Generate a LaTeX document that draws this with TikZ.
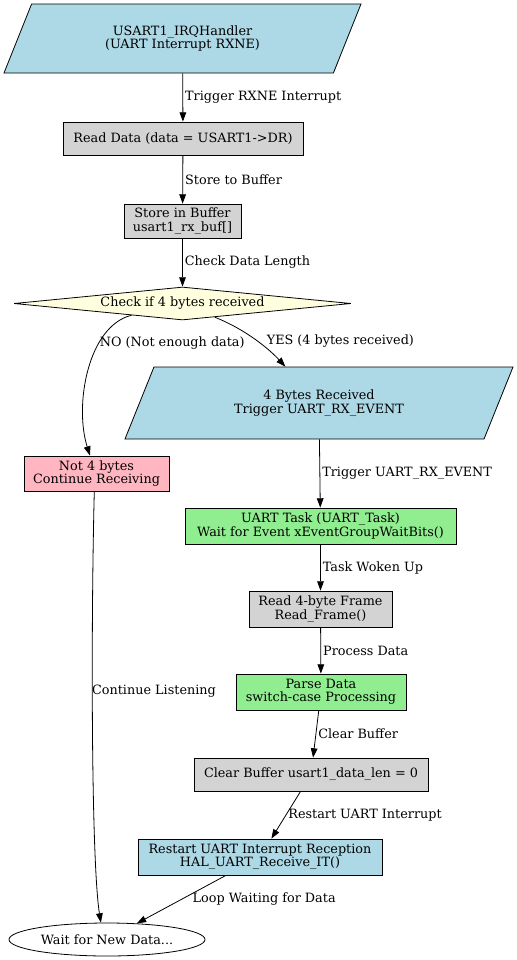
\documentclass[tikz,border=0pt]{standalone}
\usepackage{fontspec}
\setmainfont{DejaVu Serif}
\usetikzlibrary{shapes.geometric,arrows.meta}
\definecolor{lblue}{HTML}{ADD8E6}
\definecolor{lgray}{HTML}{D3D3D3}
\definecolor{lyellow}{HTML}{FFFFE0}
\definecolor{lpink}{HTML}{FFB6C1}
\definecolor{lgreen}{HTML}{90EE90}
\begin{document}
\begin{tikzpicture}[x=0.75pt, y=-0.75pt, >={Triangle[length=7pt,width=5pt]}, line width=0.6pt,
	font=\fontsize{9.6}{10}\selectfont,
	box/.style={draw, rectangle, inner sep=0pt, align=center},
	io/.style={draw, trapezium, trapezium left angle=43, trapezium right angle=137,
		trapezium stretches body, inner sep=0pt, align=center, fill=lblue},
	lbl/.style={right, inner sep=1.5pt}]
	\useasboundingbox (0,0) rectangle (517,960);
	% interrupt side
	\node[io, minimum width=267.75pt, minimum height=51.75pt] (irq) at (182.5,38.5) {USART1\_IRQHandler\\(UART Interrupt RXNE)};
	\node[box, fill=lgray, minimum width=180pt, minimum height=24.75pt] (read) at (183,138.5) {Read Data (data = USART1->DR)};
	\node[box, fill=lgray, minimum width=87.75pt, minimum height=25.5pt] (store) at (182.5,221) {Store in Buffer\\usart1\_rx\_buf[]};
	\node[draw, diamond, aspect=10, inner sep=0pt, fill=lyellow, minimum width=252.75pt, minimum height=24.75pt] (check) at (182.5,303.5) {Check if 4 bytes received};
	\node[io, trapezium left angle=42, trapezium right angle=138, minimum width=291pt, minimum height=54pt] (rx) at (319,403) {4 Bytes Received\\Trigger UART\_RX\_EVENT};
	\node[box, fill=lpink, minimum width=108.75pt, minimum height=26.25pt] (not4) at (96.5,473.5) {Not 4 bytes\\Continue Receiving};
	% task side
	\node[box, fill=lgreen, minimum width=203.25pt, minimum height=27pt] (task) at (320.5,526) {UART Task (UART\_Task)\\Wait for Event xEventGroupWaitBits()};
	\node[box, fill=lgray, minimum width=107.25pt, minimum height=27pt] (frame) at (320.5,609) {Read 4-byte Frame\\Read\_Frame()};
	\node[box, fill=lgreen, minimum width=127.5pt, minimum height=27pt] (parse) at (321,692) {Parse Data\\switch-case Processing};
	\node[box, fill=lgray, minimum width=175.5pt, minimum height=24.75pt] (clear) at (311,774.5) {Clear Buffer usart1\_data\_len = 0};
	\node[box, fill=lblue, minimum width=183pt, minimum height=27pt] (restart) at (260,857) {Restart UART Interrupt Reception\\HAL\_UART\_Receive\_IT()};
	\node[draw, ellipse, inner sep=0pt, minimum width=147pt, minimum height=24.75pt] (wait) at (107,939.5) {Wait for New Data...};

	\draw[->] (irq) -- node[lbl]{Trigger RXNE Interrupt} (read);
	\draw[->] (read) -- node[lbl]{Store to Buffer} (store);
	\draw[->] (store) -- node[lbl]{Check Data Length} (check);
	\draw[->] (check.193) .. controls (88,326) and (74,405) .. node[lbl, pos=0.32, xshift=-1pt]{NO (Not enough data)} (not4.110);
	\draw[->] (check.337) .. controls (247,330) and (270,350) .. node[lbl, pos=0.52, xshift=5pt]{YES (4 bytes received)} (rx);
	\draw[->] (rx) -- node[lbl]{Trigger UART\_RX\_EVENT} (task);
	\draw[->] (task) -- node[lbl]{Task Woken Up} (frame);
	\draw[->] (frame) -- node[lbl]{Process Data} (parse);
	\draw[->] (parse) -- node[lbl]{Clear Buffer} (clear);
	\draw[->] (clear) -- node[lbl]{Restart UART Interrupt} (restart);
	\draw[->] (restart) -- node[lbl, pos=0.4, yshift=-3pt]{Loop Waiting for Data} (wait);
	\draw[->] (not4.263) .. controls (91,620) and (91,860) .. node[lbl, pos=0.42, xshift=-2pt]{Continue Listening} (wait.110);
\end{tikzpicture}
\end{document}
